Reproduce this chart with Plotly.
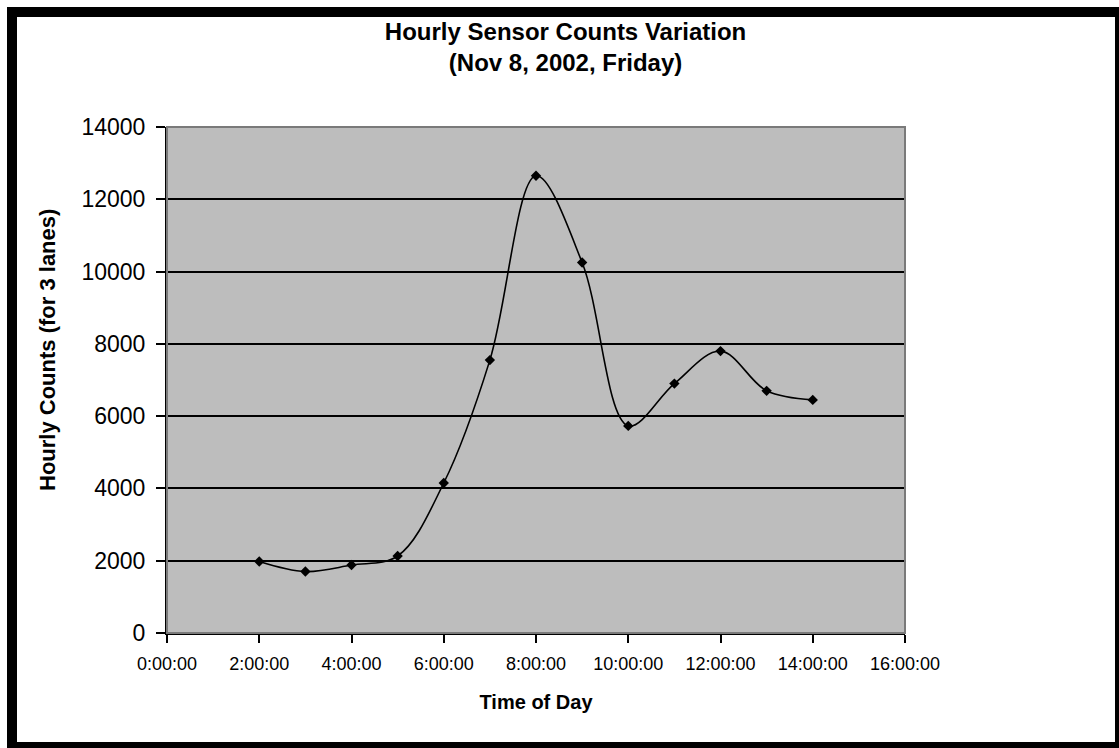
import plotly.graph_objects as go

# ---- data ----
hours = [2, 3, 4, 5, 6, 7, 8, 9, 10, 11, 12, 13, 14]
counts = [1980, 1700, 1880, 2130, 4150, 7550, 12650, 10250, 5730, 6900, 7800, 6700, 6450]
tick_vals = [0, 2, 4, 6, 8, 10, 12, 14, 16]
tick_text = ["0:00:00", "2:00:00", "4:00:00", "6:00:00", "8:00:00",
             "10:00:00", "12:00:00", "14:00:00", "16:00:00"]
y_ticks = [0, 2000, 4000, 6000, 8000, 10000, 12000, 14000]

W, H = 1119, 748
ML, MR, MT, MB = 167, W - 905, 127, H - 633
FONT = "Liberation Sans, Arial, sans-serif"

fig = go.Figure()
fig.add_trace(go.Scatter(
    x=hours, y=counts, mode="lines+markers",
    line=dict(color="black", width=1.6, shape="spline", smoothing=1.0),
    marker=dict(symbol="diamond", size=8, color="black"),
    showlegend=False, hoverinfo="skip"))

def px_x(p):
    return (p - ML) / (W - ML - MR)

def px_y(p):
    return (H - MB - p) / (H - MT - MB)

shapes = []
# plot-area border (gray)
shapes.append(dict(type="rect", xref="paper", yref="paper", x0=0, x1=1, y0=0, y1=1,
                   line=dict(color="#7a7a7a", width=2), layer="above"))
# outer frame
frame = [(7, 17, 7, 748), (7, 1115, 7, 17), (1115, 1119, 7, 748), (7, 1119, 742, 748)]
for x0, x1, y0, y1 in frame:
    shapes.append(dict(type="rect", xref="paper", yref="paper",
                       x0=px_x(x0), x1=px_x(x1), y0=px_y(y1), y1=px_y(y0),
                       fillcolor="black", line=dict(width=0), layer="above"))

annotations = [dict(text="<b>Hourly Counts (for 3 lanes)</b>", textangle=-90,
                    xref="paper", yref="paper", x=px_x(47), y=px_y(350),
                    xanchor="center", yanchor="middle", showarrow=False,
                    font=dict(size=22, family=FONT, color="black"))]

fig.update_layout(
    width=W, height=H,
    margin=dict(l=ML, r=MR, t=MT, b=MB, pad=0),
    paper_bgcolor="white", plot_bgcolor="#bdbdbd",
    font=dict(family=FONT, color="black"),
    title=dict(text="<b>Hourly Sensor Counts Variation</b><br><b>(Nov 8, 2002, Friday)</b>",
               x=px_x(540), xanchor="center", y=1 - 40 / H, yanchor="middle",
               font=dict(size=24, family=FONT, color="black")),
    xaxis=dict(range=[0, 16], tickvals=tick_vals, ticktext=tick_text,
               showgrid=False, zeroline=False, showline=True, linecolor="black", linewidth=2,
               ticks="outside", ticklen=8, tickwidth=2, tickcolor="black",
               ticklabelstandoff=5,
               tickfont=dict(size=18, family=FONT),
               title=dict(text="<b>Time of Day</b>", font=dict(size=20, family=FONT), standoff=22)),
    yaxis=dict(range=[0, 14000], tickvals=y_ticks, tickformat="d",
               showgrid=True, gridcolor="black", gridwidth=2, zeroline=False,
               showline=True, linecolor="black", linewidth=2,
               ticks="outside", ticklen=9, tickwidth=2, tickcolor="black",
               ticklabelstandoff=6,
               tickfont=dict(size=23, family=FONT)),
    shapes=shapes,
    annotations=annotations,
)

fig.write_html("out.html", config={"displayModeBar": False},
               post_script="document.body.style.margin='0';")
